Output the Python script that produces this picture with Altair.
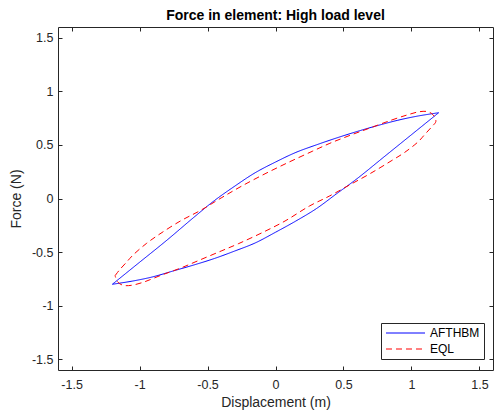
import altair as alt
import pandas as pd

# AFTHBM hysteresis loop: loading branch (left tip -> right tip), then unloading branch back
afthbm_up_x = [-1.2, -1.0, -0.8, -0.6, -0.45, -0.3, -0.15, 0.0, 0.15, 0.3, 0.45, 0.6, 0.75, 0.9, 1.05, 1.2]
afthbm_up_y = [-0.80, -0.595, -0.39, -0.175, -0.02, 0.115, 0.24, 0.34, 0.43, 0.50, 0.565, 0.625, 0.68, 0.73, 0.77, 0.80]
afthbm_dn_x = [1.2, 1.0, 0.8, 0.6, 0.45, 0.3, 0.15, 0.0, -0.15, -0.3, -0.45, -0.6, -0.75, -0.9, -1.05, -1.2]
afthbm_dn_y = [0.80, 0.595, 0.39, 0.185, 0.045, -0.095, -0.21, -0.315, -0.415, -0.49, -0.56, -0.62, -0.675, -0.73, -0.77, -0.80]

# EQL (equivalent linearization) loop
eql_up_x = [-1.18, -1.15, -1.10, -1.05, -0.95, -0.85, -0.70, -0.55, -0.40, -0.25, -0.07, 0.10, 0.27,
            0.40, 0.55, 0.70, 0.85, 0.97, 1.06, 1.12, 1.16, 1.18]
eql_up_y = [-0.72, -0.67, -0.60, -0.53, -0.42, -0.33, -0.21, -0.11, 0.005, 0.115, 0.235, 0.34, 0.44,
            0.515, 0.59, 0.66, 0.73, 0.78, 0.81, 0.81, 0.78, 0.72]
eql_dn_x = [1.15, 1.10, 1.05, 0.95, 0.85, 0.70, 0.55, 0.40, 0.25, 0.07, -0.10, -0.27, -0.40,
            -0.55, -0.70, -0.85, -0.97, -1.06, -1.12, -1.16, -1.18]
eql_dn_y = [0.67, 0.60, 0.53, 0.43, 0.35, 0.235, 0.13, 0.025, -0.07, -0.21, -0.32, -0.42, -0.49,
            -0.57, -0.65, -0.72, -0.78, -0.81, -0.81, -0.78, -0.72]

series_names = ["AFTHBM", "EQL"]
series_colors = ["#0000ff", "#ff0000"]
tick_values = [-1.5, -1.0, -0.5, 0.0, 0.5, 1.0, 1.5]

# AFTHBM branches are kept as separate paths so the loop tips stay sharp;
# the EQL loop is one continuous path
paths = [
    ("AFTHBM", "AFTHBM loading", afthbm_up_x, afthbm_up_y),
    ("AFTHBM", "AFTHBM unloading", afthbm_dn_x, afthbm_dn_y),
    ("EQL", "EQL loop", eql_up_x + eql_dn_x, eql_up_y + eql_dn_y),
]
rows = []
for name, seg, xs, ys in paths:
    for i, (xv, yv) in enumerate(zip(xs, ys)):
        rows.append({"series": name, "segment": seg, "idx": i, "x": xv, "y": yv})
df = pd.DataFrame(rows)

W, H = 435, 343
FONT = "Liberation Sans"
INK = "#262626"

xscale = alt.Scale(domain=[-1.6, 1.6], nice=False, zero=False)
yscale = alt.Scale(domain=[-1.6, 1.6], nice=False, zero=False)

legend = alt.Legend(
    title=None, orient="none", legendX=323, legendY=296,
    symbolType="M-1,0H6.8", symbolSize=100, symbolStrokeWidth=1,
    labelOffset=33, labelFont=FONT, labelFontSize=12, labelColor="black",
    padding=4, rowPadding=4, strokeColor=INK, fillColor="white", cornerRadius=0,
)

label_axis = dict(values=tick_values, ticks=False, domain=False, grid=False,
                  labelExpr="datum.value + ''",
                  labelFont=FONT, labelFontSize=12.5, labelColor=INK,
                  titleFont=FONT, titleFontSize=14, titleColor=INK, titleFontWeight="normal")

lines = alt.Chart(df).mark_line(strokeWidth=1, interpolate="catmull-rom").encode(
    x=alt.X("x:Q", scale=xscale,
            axis=alt.Axis(orient="bottom", title="Displacement (m)", labelPadding=8, titlePadding=5, **label_axis)),
    y=alt.Y("y:Q", scale=yscale,
            axis=alt.Axis(orient="left", title="Force (N)", labelPadding=5, titlePadding=8, **label_axis)),
    color=alt.Color("series:N", scale=alt.Scale(domain=series_names, range=series_colors), legend=legend),
    strokeDash=alt.StrokeDash("series:N", scale=alt.Scale(domain=series_names, range=[[1, 0], [6, 4]]), legend=legend),
    detail="segment:N",
    order="idx:Q",
)

tick_axis = dict(values=tick_values, labels=False, domain=False, grid=False, title=None,
                 ticks=True, tickSize=4, tickColor=INK, tickWidth=1)

# inward ticks along the bottom and left edges
ticks_bl = alt.Chart(df).mark_line(opacity=0).encode(
    x=alt.X("x:Q", scale=xscale, axis=alt.Axis(orient="top", offset=-H, **tick_axis)),
    y=alt.Y("y:Q", scale=yscale, axis=alt.Axis(orient="right", offset=-W, **tick_axis)),
    detail="segment:N",
)

# inward ticks along the top and right edges
ticks_tr = alt.Chart(df).mark_line(opacity=0).encode(
    x=alt.X("x:Q", scale=xscale, axis=alt.Axis(orient="bottom", offset=-H, **tick_axis)),
    y=alt.Y("y:Q", scale=yscale, axis=alt.Axis(orient="left", offset=-W, **tick_axis)),
    detail="segment:N",
)

chart = alt.layer(lines, ticks_bl, ticks_tr).resolve_axis(
    x="independent", y="independent"
).properties(
    width=W, height=H,
    title=alt.TitleParams("Force in element: High load level", font=FONT, fontSize=14,
                          fontWeight="bold", color="black", anchor="middle", offset=4),
    autosize=alt.AutoSizeParams(type="none"),
    padding={"left": 58, "top": 27, "right": 1, "bottom": 46},
).configure_view(stroke=INK, strokeWidth=1)

chart.save("out.html", embed_options={"renderer": "svg", "actions": False})
